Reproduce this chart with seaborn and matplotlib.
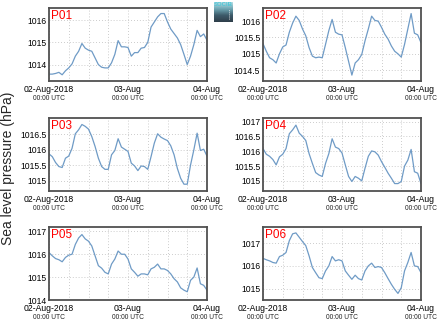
import numpy as np
import pandas as pd
import matplotlib
matplotlib.use("Agg")
import matplotlib.pyplot as plt
import matplotlib.dates as mdates
import matplotlib.transforms as mtransforms
import seaborn as sns

# Hourly sea level pressure (hPa), 02-Aug-2018 00:00 UTC to 04-Aug-2018 00:00 UTC
p01 = [1013.57, 1013.57, 1013.60, 1013.65, 1013.54, 1013.72, 1013.85, 1014.03, 1014.38, 1014.60,
       1014.95, 1014.74, 1014.65, 1014.60, 1014.30, 1014.00, 1013.88, 1013.85, 1013.85, 1014.08,
       1014.46, 1015.08, 1014.80, 1014.80, 1014.77, 1014.38, 1014.54, 1014.54, 1014.74, 1014.77,
       1015.00, 1015.69, 1015.92, 1016.15, 1016.30, 1016.30, 1015.92, 1015.60, 1015.40, 1015.20,
       1014.90, 1014.46, 1014.00, 1014.38, 1014.90, 1015.54, 1015.26, 1015.38, 1015.10]
p02 = [1015.31, 1015.08, 1014.88, 1014.82, 1014.72, 1015.00, 1015.21, 1015.27, 1015.66, 1015.94,
       1016.15, 1016.02, 1015.76, 1015.55, 1015.19, 1014.93, 1014.88, 1014.90, 1014.88, 1015.29,
       1015.71, 1016.05, 1015.66, 1015.60, 1015.58, 1015.19, 1014.77, 1014.35, 1014.72, 1014.82,
       1014.98, 1015.40, 1015.76, 1016.15, 1016.02, 1016.00, 1015.81, 1015.60, 1015.45, 1015.24,
       1015.08, 1015.00, 1014.90, 1015.29, 1015.76, 1016.23, 1015.63, 1015.58, 1015.34]
p03 = [1015.87, 1015.78, 1015.59, 1015.46, 1015.43, 1015.73, 1015.80, 1016.05, 1016.52, 1016.65,
       1016.82, 1016.76, 1016.67, 1016.43, 1016.11, 1015.73, 1015.46, 1015.37, 1015.37, 1015.84,
       1015.98, 1016.36, 1016.09, 1016.02, 1015.95, 1015.57, 1015.48, 1015.33, 1015.48, 1015.46,
       1015.37, 1015.78, 1016.22, 1016.52, 1016.41, 1016.35, 1016.30, 1016.13, 1015.84, 1015.40,
       1015.08, 1014.89, 1014.89, 1015.51, 1016.00, 1016.54, 1015.98, 1016.02, 1015.80]
p04 = [1016.09, 1015.90, 1015.83, 1015.72, 1015.54, 1015.81, 1015.90, 1016.09, 1016.59, 1016.72,
       1016.88, 1016.61, 1016.50, 1016.36, 1015.92, 1015.59, 1015.28, 1015.20, 1015.15, 1015.59,
       1015.92, 1016.42, 1016.14, 1016.09, 1015.94, 1015.54, 1015.15, 1014.98, 1015.15, 1015.09,
       1015.00, 1015.43, 1015.83, 1016.01, 1015.98, 1015.87, 1015.65, 1015.46, 1015.26, 1015.09,
       1014.91, 1014.91, 1014.98, 1015.50, 1015.70, 1016.06, 1015.31, 1015.26, 1014.91]
p05 = [1016.07, 1015.93, 1015.81, 1015.76, 1015.67, 1015.86, 1015.96, 1016.00, 1016.43, 1016.71,
       1016.86, 1016.67, 1016.57, 1016.36, 1015.93, 1015.50, 1015.39, 1015.21, 1015.14, 1015.57,
       1015.79, 1016.14, 1016.00, 1016.00, 1015.79, 1015.36, 1015.21, 1015.04, 1015.14, 1015.14,
       1015.10, 1015.36, 1015.43, 1015.57, 1015.36, 1015.36, 1015.29, 1015.14, 1014.93, 1014.79,
       1014.53, 1014.43, 1014.36, 1014.86, 1015.00, 1015.40, 1014.71, 1014.64, 1014.43]
p06 = [1016.33, 1016.27, 1016.22, 1016.15, 1016.12, 1016.41, 1016.47, 1016.59, 1017.11, 1017.41,
       1017.45, 1017.26, 1017.07, 1016.89, 1016.44, 1015.93, 1015.70, 1015.48, 1015.44, 1015.78,
       1016.00, 1016.41, 1016.22, 1016.27, 1016.22, 1015.78, 1015.59, 1015.41, 1015.59, 1015.44,
       1015.38, 1015.78, 1016.00, 1016.12, 1015.93, 1015.97, 1015.93, 1015.70, 1015.44, 1015.19,
       1014.97, 1014.79, 1015.04, 1015.78, 1016.15, 1016.59, 1016.00, 1015.97, 1015.70]

stations = ["P01", "P02", "P03", "P04", "P05", "P06"]
series = [p01, p02, p03, p04, p05, p06]
yticks = [
    [1014, 1015, 1016],
    [1014.5, 1015, 1015.5, 1016],
    [1015, 1015.5, 1016, 1016.5],
    [1015, 1015.5, 1016, 1016.5, 1017],
    [1014, 1015, 1016, 1017],
    [1015, 1016, 1017],
]
ylims = [
    (1013.26, 1016.55),
    (1014.17, 1016.40),
    (1014.67, 1017.03),
    (1014.66, 1017.12),
    (1014.00, 1017.19),
    (1014.50, 1017.71),
]
day_labels = ["02-Aug-2018", "03-Aug", "04-Aug"]
hour_label = "00:00 UTC"
ylabel = "Sea level pressure (hPa)"

times = pd.date_range("2018-08-02 00:00", periods=len(p01), freq="h")
df = pd.DataFrame({name: vals for name, vals in zip(stations, series)})
df["time"] = times
t0 = pd.Timestamp("2018-08-02 00:00")
t1 = pd.Timestamp("2018-08-04 00:00")
day_ticks = pd.date_range(t0, t1, freq="D")

sns.set_style("white")
plt.rcParams["font.family"] = ["Liberation Sans", "DejaVu Sans"]

fig = plt.figure(figsize=(4.41, 3.27), dpi=100)
W, H = 441.0, 327.0
col_left = [49, 263]
row_top = [8, 118, 227]
ax_w, ax_h = 158, 73

line_color = "#6f9bc6"
frame_color = "#505050"

for i, name in enumerate(stations):
    r, c = divmod(i, 2)
    ax = fig.add_axes([col_left[c] / W, 1 - (row_top[r] + ax_h) / H, ax_w / W, ax_h / H])
    sns.lineplot(data=df, x="time", y=name, ax=ax, color=line_color, linewidth=0.9)
    ax.set_xlim(t0, t1)
    ax.set_ylim(*ylims[i])
    ax.set_xlabel("")
    ax.set_ylabel("")

    ax.set_xticks(day_ticks)
    ax.set_xticklabels(day_labels)
    ax.xaxis.set_minor_locator(mdates.HourLocator(byhour=[6, 12, 18]))
    ax.set_yticks(yticks[i])
    ax.set_yticklabels([f"{v:g}" for v in yticks[i]])
    ax.tick_params(axis="both", which="both", direction="in", labelsize=6.2,
                   colors="#333333", labelcolor="black", length=2.5, width=0.6, pad=2)
    ax.tick_params(axis="x", which="major", pad=3)

    ax.grid(True, which="both", axis="x", linestyle=(0, (1, 2.5)), color="#bbbbbb", linewidth=0.6)
    ax.grid(True, which="major", axis="y", linestyle=(0, (1, 2.5)), color="#bbbbbb", linewidth=0.6)
    for sp in ax.spines.values():
        sp.set_visible(True)
        sp.set_color(frame_color)
        sp.set_linewidth(1.3)

    trans = mtransforms.blended_transform_factory(ax.transData, ax.transAxes)
    for d in day_ticks:
        ax.annotate(hour_label, xy=(mdates.date2num(d), 0), xycoords=trans,
                    xytext=(0, -12.6), textcoords="offset points",
                    ha="center", va="center", fontsize=4.8, color="#222222",
                    annotation_clip=False)

    ax.text(0.015, 0.97, name, transform=ax.transAxes, ha="left", va="top",
            fontsize=8.5, color="#ff0000")

fig.text(8 / W, 1 - 168 / H, ylabel, rotation=90, ha="center", va="center", fontsize=10)

# Small SOCIB badge in the top gap
logo = fig.add_axes([214 / W, 1 - 22 / H, 19 / W, 20 / H])
grad = np.linspace(0, 1, 64).reshape(-1, 1)
cmap = matplotlib.colors.LinearSegmentedColormap.from_list(
    "badge", ["#b9dfe6", "#6fa7b4", "#3d5a69", "#2f3e4a"])
logo.imshow(grad, aspect="auto", cmap=cmap, extent=(0, 1, 0, 1), origin="upper")
logo.text(0.5, 0.86, "SOCIB", ha="center", va="center", fontsize=4.3,
          color="#4fc6d6", fontweight="bold", transform=logo.transAxes)
logo.plot([0.78, 0.78], [0.15, 0.65], color="white", linestyle=(0, (1, 1.5)), linewidth=0.6)
logo.set_xlim(0, 1)
logo.set_ylim(0, 1)
logo.axis("off")

fig.savefig("out.png", dpi=100)
